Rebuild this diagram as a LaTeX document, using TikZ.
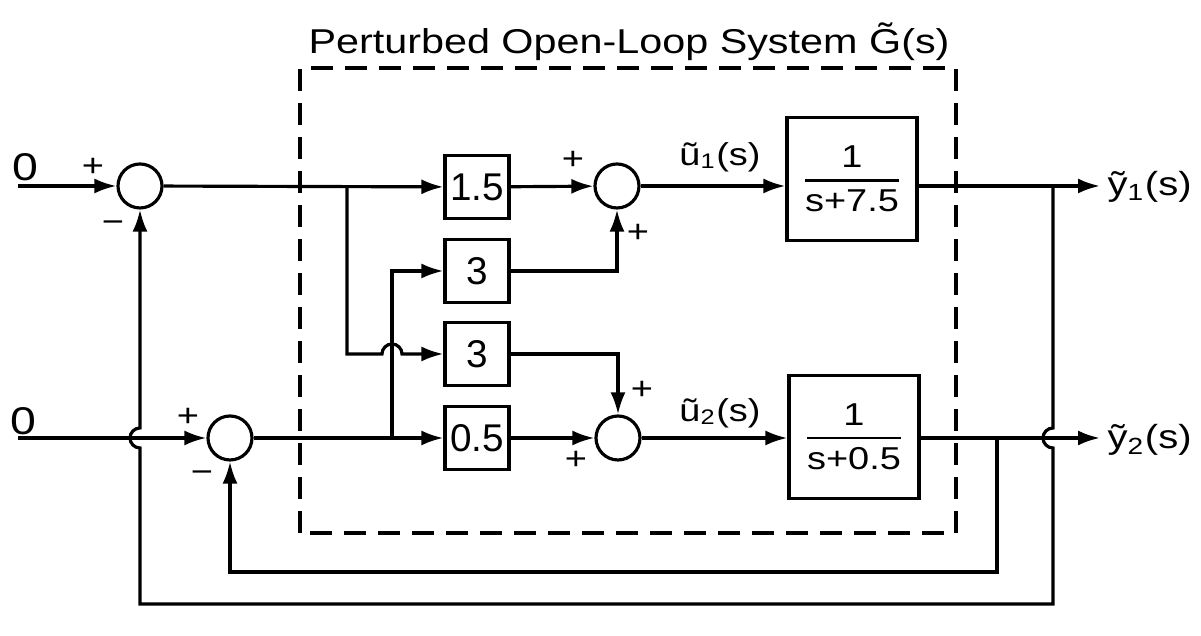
\documentclass[tikz,border=0pt]{standalone}
\usepackage{fontspec}
\usepackage{amsmath}
\setmainfont[FakeStretch=1.2]{Liberation Sans}
\newfontfamily\gainfont{Liberation Sans}
\usetikzlibrary{arrows.meta}
\newcommand{\plantfrac}[1]{$\genfrac{}{}{0.8pt}{0}{\text{1}}{\text{#1}}$}

\begin{document}
\begin{tikzpicture}[x=1cm,y=1cm,line width=0.9pt,
  sumnode/.style={draw,circle,minimum size=0.44cm,inner sep=0pt},
  gain/.style={draw,minimum width=0.64cm,minimum height=0.63cm,inner sep=0pt,font=\gainfont\fontsize{11}{13}\selectfont},
  plant/.style={draw,minimum width=1.3cm,minimum height=1.23cm,inner sep=0pt,font=\fontsize{9}{11}\selectfont},
  sig/.style={-{Latex[length=0.22cm,width=0.15cm]}},
  sgn/.style={inner sep=0pt,font=\fontsize{9}{11}\selectfont},
  lbl/.style={inner sep=0pt,font=\fontsize{9}{11}\selectfont},
  frame/.style={dash pattern=on 0.22cm off 0.12cm}]
\path[use as bounding box] (0,0) rectangle (12.01,6.36);
% open-loop system frame
\draw[frame] (3.00,1.03) rectangle (9.56,5.68);
\node[lbl,font=\fontsize{9.8}{11}\selectfont] (title) at (6.29,5.94) {Perturbed Open-Loop System \~{G}(s)};
% inputs and summing junctions
\node[lbl,font=\fontsize{11}{13}\selectfont] (ref1) at (0.25,4.69) {0};
\node[lbl,font=\fontsize{11}{13}\selectfont] (ref2) at (0.23,2.15) {0};
\coordinate (in1) at (0.18,4.50);
\coordinate (in2) at (0.18,1.98);
\node[sumnode] (sum1) at (1.40,4.50) {};
\node[sumnode] (sum2) at (2.30,1.98) {};
\node[sgn] (p1) at (0.93,4.69) {+};
\node[sgn] (m1) at (1.13,4.09) {−};
\node[sgn] (p2) at (1.88,2.19) {+};
\node[sgn] (m2) at (2.02,1.59) {−};
% gains
\node[gain] (k15) at (4.77,4.49) {1.5};
\node[gain] (k3a) at (4.77,3.65) {3};
\node[gain] (k3b) at (4.77,2.82) {3};
\node[gain] (k05) at (4.77,1.98) {0.5};
\node[sumnode] (sumA) at (6.17,4.50) {};
\node[sumnode] (sumB) at (6.18,1.98) {};
\node[sgn] (pa1) at (5.73,4.76) {+};
\node[sgn] (pa2) at (6.38,4.03) {+};
\node[sgn] (pb1) at (6.42,2.46) {+};
\node[sgn] (pb2) at (5.76,1.76) {+};
% plants
\node[plant] (g1) at (8.52,4.57) {\plantfrac{s+7.5}};
\node[plant] (g2) at (8.54,1.99) {\plantfrac{s+0.5}};
\node[lbl] (u1) at (7.20,4.79) {ũ\textsubscript{1}(s)};
\node[lbl] (u2) at (7.20,2.23) {ũ\textsubscript{2}(s)};
\coordinate (out1) at (11.00,4.50);
\coordinate (out2) at (11.00,1.98);
\node[lbl,anchor=west,font=\fontsize{9.5}{11}\selectfont] (y1) at (11.06,4.49) {ỹ\textsubscript{1}(s)};
\node[lbl,anchor=west,font=\fontsize{9.5}{11}\selectfont] (y2) at (11.06,1.96) {ỹ\textsubscript{2}(s)};
% branch points
\coordinate (br1) at (3.47,4.50);
\coordinate (br2) at (3.92,1.98);
\coordinate (fb1) at (10.53,4.50);
\coordinate (fb2) at (9.97,1.98);
% signal lines
\draw[sig] (in1) -- (sum1);
\draw[sig] (in2) -- (sum2);
\draw[sig] (sum1) -- (k15);
\draw[sig] (sum2) -- (k05);
\draw[sig] (br2) |- (k3a);
\draw[sig] (br1) |- (3.82,2.82) arc[start angle=180,end angle=0,radius=0.1] -- (k3b);
\draw[sig] (k15) -- (sumA);
\draw[sig] (k05) -- (sumB);
\draw[sig] (k3a) -| (sumA);
\draw[sig] (k3b) -| (sumB);
\draw[sig] (sumA) -- (sumA -| g1.west);
\draw[sig] (sumB) -- (sumB -| g2.west);
\draw[sig] (g1.east |- sumA) -- (out1);
\draw[sig] (g2.east |- sumB) -- (out2);
% feedback loops
\draw[sig] (fb1) -- (10.53,2.08) arc[start angle=90,end angle=270,radius=0.1] -- (10.53,0.32) -- (1.40,0.32) -- (1.40,1.88) arc[start angle=270,end angle=90,radius=0.1] -- (sum1);
\draw[sig] (fb2) -- (9.97,0.64) -| (sum2);
\end{tikzpicture}
\end{document}
